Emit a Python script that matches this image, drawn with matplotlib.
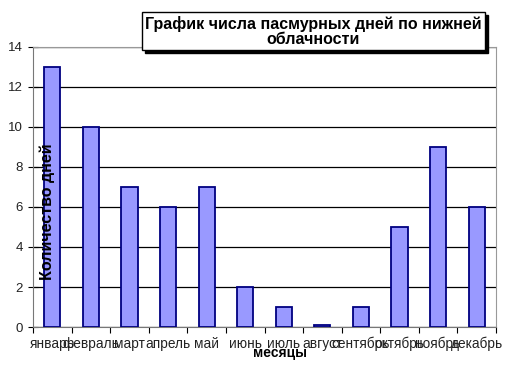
import matplotlib.pyplot as plt

months = ["январь", "февраль", "март", "апрель", "май", "июнь",
          "июль", "август", "сентябрь", "октябрь", "ноябрь", "декабрь"]
days = [13, 10, 7, 6, 7, 2, 1, 0.1, 1, 5, 9, 6]
yticks = [0, 2, 4, 6, 8, 10, 12, 14]

plt.rcParams['font.family'] = ['Liberation Sans', 'DejaVu Sans']

fig = plt.figure(figsize=(5.14, 3.67), dpi=100)
ax = fig.add_axes([33 / 514, 1 - 327 / 367, (496 - 33) / 514, 280 / 367])

x = list(range(len(months)))
ax.bar(x, days, width=0.42, color="#9999ff", edgecolor="#000080", linewidth=1.3, zorder=3)

ax.set_xlim(-0.5, len(months) - 0.5)
ax.set_ylim(0, 14)
ax.set_yticks(yticks)
ax.set_yticklabels([str(v) for v in yticks], fontsize=9.5, color="#222222")
ax.yaxis.grid(True, color="black", linewidth=0.9, zorder=0)

ax.set_xticks([i - 0.5 for i in range(len(months) + 1)])
ax.set_xticklabels([])
ax.set_xticks(x, minor=True)
ax.set_xticklabels(months, minor=True, fontsize=9.8, color="#222222")
ax.tick_params(axis="x", which="major", direction="out", length=4, color="black")
ax.tick_params(axis="x", which="minor", length=0, pad=7)
ax.tick_params(axis="y", direction="inout", length=7, pad=4)

for s in ("top", "right"):
    ax.spines[s].set_color("#999999")
ax.spines["left"].set_color("#777777")
ax.spines["bottom"].set_color("#777777")

# axis titles drawn on top of everything, as in the reference
fig.text(280 / 514, 1 - 353 / 367, "месяцы", ha="center", va="center",
         fontsize=10, fontweight="bold", zorder=10)
fig.text(47 / 514, 1 - 212 / 367, "Количество дней", ha="center", va="center",
         rotation=90, fontsize=11.5, fontweight="bold", zorder=10)

# title box with shadow
bx, by, bw, bh = 142 / 514, 1 - 50 / 367, 343 / 514, 38 / 367
fig.patches.append(plt.Rectangle((bx + 3 / 514, by - 3 / 367), bw, bh,
                                 transform=fig.transFigure, color="black", zorder=5))
fig.patches.append(plt.Rectangle((bx, by), bw, bh, transform=fig.transFigure,
                                 facecolor="white", edgecolor="black", linewidth=1, zorder=6))
fig.text(bx + bw / 2, by + bh / 2, "График числа пасмурных дней по нижней\nоблачности",
         ha="center", va="center", fontsize=11.5, fontweight="bold", zorder=7,
         linespacing=1.0)

fig.savefig("out.png", dpi=100)
